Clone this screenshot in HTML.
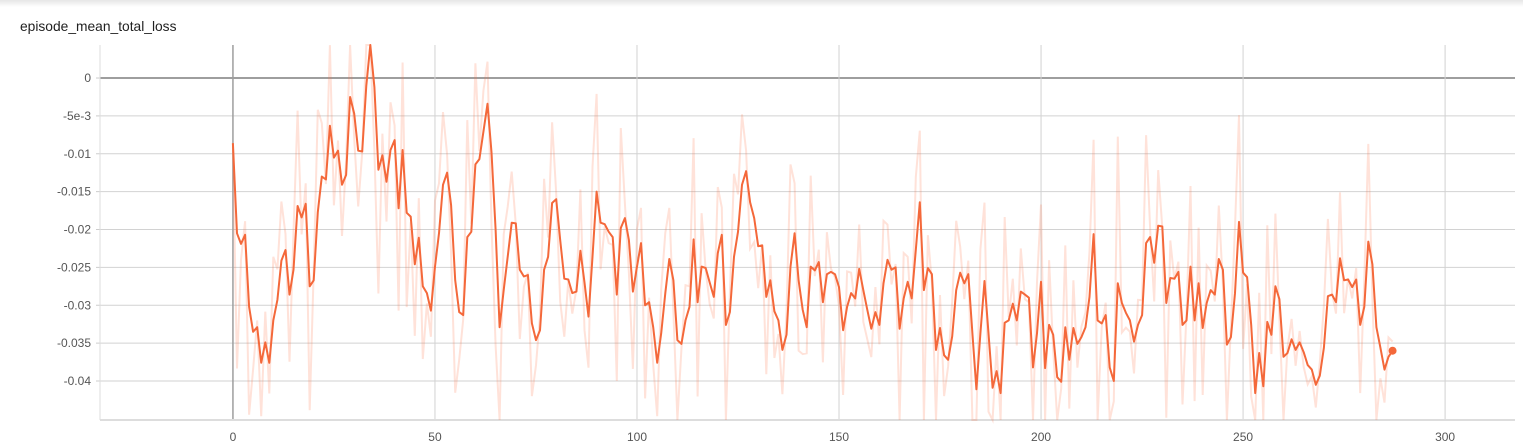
<!DOCTYPE html>
<html><head><meta charset="utf-8"><style>
html,body{margin:0;padding:0;background:#fff;width:1523px;height:446px;overflow:hidden;font-family:"Liberation Sans",Arial,sans-serif;position:relative}
#shadow{position:absolute;left:0;top:0;width:1523px;height:7px;background:linear-gradient(#e6e6e6,#fff)}
#title{position:absolute;left:20px;top:19px;font-size:13.8px;line-height:16px;color:#212121;white-space:nowrap}
svg{position:absolute;left:0;top:0;display:block}
</style></head><body>
<div id="shadow"></div>
<div id="title">episode_mean_total_loss</div>
<svg id="chart" width="1523" height="446"></svg>
<script>
const xTicks=[0,50,100,150,200,250,300];
const yTicks=[0,-0.005,-0.01,-0.015,-0.02,-0.025,-0.03,-0.035,-0.04];
const yTickLabels=["0","-5e-3","-0.01","-0.015","-0.02","-0.025","-0.03","-0.035","-0.04"];
// smoothed values (x1e-3), steps 0..287
const smoothed=[-8.6,-20.5,-21.9,-20.7,-30.2,-33.5,-32.9,-37.6,-34.9,-37.6,
-32,-29.3,-24.1,-22.7,-28.6,-25.3,-16.9,-18.4,-16.6,-27.5,
-26.7,-17.7,-13,-13.4,-6.3,-10.5,-9.6,-14.1,-12.8,-2.5,
-4.7,-9.6,-9.7,-1,4.4,-1.2,-12.1,-10.2,-13.7,-9.5,
-8.2,-17.2,-9.5,-17.8,-18.3,-24.6,-21.1,-27.5,-28.4,-30.7,
-24.9,-20.5,-14.1,-12.5,-16.8,-26.7,-30.9,-31.3,-21,-20.3,
-11.4,-10.7,-7.1,-3.4,-9.8,-20,-32.9,-28,-23.6,-19.1,
-19.2,-25.3,-26.2,-26,-32.4,-34.6,-33.3,-25.3,-23.6,-16.5,
-16,-21.4,-26.5,-26.6,-28.4,-28.2,-22.8,-27,-31.5,-23.6,
-15,-19.1,-19.3,-20.3,-21,-28.6,-19.8,-18.5,-21.4,-28.2,
-24.9,-21.8,-30,-29.6,-32.9,-37.6,-33.7,-28.4,-23.9,-26.7,
-34.6,-35.1,-32,-30.2,-21.3,-29.6,-24.9,-25.1,-27,-28.9,
-23.1,-20.7,-32.6,-30.9,-23.6,-20.3,-14.1,-12.3,-16.4,-18.5,
-22.2,-22.1,-28.9,-26.7,-30.8,-32,-35.9,-33.9,-24.9,-20.5,
-26.7,-30.6,-32.9,-24.9,-25.4,-24.3,-29.6,-25.9,-25.6,-25.9,
-27.6,-33.3,-30.2,-28.4,-29.1,-25.2,-28,-30.6,-33.1,-30.9,
-32.6,-27.1,-24,-25.3,-25,-33.1,-29.1,-26.9,-29.1,-22.7,
-16.4,-28,-25.1,-25.9,-35.9,-33,-36.6,-37.2,-34.1,-28,
-25.7,-27.1,-25.9,-33.7,-41.1,-33.7,-26.8,-33.7,-40.9,-38.7,
-41.6,-32.3,-32,-29.8,-32,-28.2,-28.6,-29,-38.2,-33.7,
-26.9,-38.3,-32.6,-33.9,-39.5,-40.1,-32.9,-37.2,-33,-35.1,
-34.2,-32.9,-28.9,-20.6,-32,-32.4,-31.3,-38.2,-40,-27.1,
-29.7,-31,-32,-34.8,-32.6,-31.3,-21.8,-21,-24.4,-19.5,
-19.6,-29.7,-26.4,-26.5,-25.6,-32.6,-32,-24.9,-32,-27.1,
-33,-29.7,-28,-28.6,-23.9,-25.3,-35.2,-34.2,-28.4,-19,
-25.7,-26.3,-32.6,-41.6,-36.3,-40.7,-32.2,-33.9,-27.5,-29.2,
-36.8,-36.3,-34.5,-35.9,-34.9,-36.2,-37.9,-38.5,-40.5,-39.3,
-35.6,-28.8,-28.6,-29.6,-23.8,-26.7,-26.6,-27.6,-26.6,-32.6,
-30.2,-21.6,-24.6,-32.9,-35.6,-38.5,-36.8,-36];
const W=0.6;
const raw=smoothed.map((s,i)=>i===0?s:(s-W*smoothed[i-1])/(1-W));

const NS="http://www.w3.org/2000/svg";
const svg=document.getElementById('chart');
const L=100,R=1515,T=45,B=420;
const X0=-32.9,X1=317.3,Y0=-45.15e-3,Y1=4.36e-3;
const sx=v=>L+(v-X0)/(X1-X0)*(R-L);
const sy=v=>B-(v-Y0)/(Y1-Y0)*(B-T);
const syc=v=>Math.max(T,Math.min(B,sy(v)));
function mk(tag,attrs){const e=document.createElementNS(NS,tag);for(const k in attrs)e.setAttribute(k,attrs[k]);svg.appendChild(e);return e;}

yTicks.forEach((v,i)=>{
  const y=sy(v);
  const g=mk('line',{x1:L,x2:R,y1:y,y2:y,stroke:v===0?'#9e9e9e':'#d2d2d2','stroke-width':v===0?2:1});
  
  
  const tk=mk('line',{x1:L-4,x2:L,y1:y,y2:y,stroke:'#ccc'});
  
  
  const t=mk('text',{x:91,y:y+4,'text-anchor':'end','font-size':12,fill:'#555'});
  t.textContent=yTickLabels[i];
  
  
});
xTicks.forEach(v=>{
  const x=sx(v);
  const g=mk('line',{x1:x,x2:x,y1:T,y2:B,stroke:v===0?'#9e9e9e':'#d2d2d2','stroke-width':v===0?1.5:1});
  
  
  const t=mk('text',{x:x,y:441,'text-anchor':'middle','font-size':12,fill:'#555'});
  t.textContent=String(v);
  
  
});
const ax=mk('line',{x1:L,x2:L,y1:T,y2:B,stroke:'#ddd'});


const bx=mk('line',{x1:L,x2:R,y1:B,y2:B,stroke:'#ddd','stroke-width':2});



const pts=a=>a.map((v,i)=>sx(i).toFixed(1)+','+syc(v*1e-3).toFixed(1)).join(' ');
const rawLine=mk('polyline',{points:pts(raw),fill:'none',stroke:'#ff7043','stroke-opacity':0.2,'stroke-width':2});


const smLine=mk('polyline',{points:pts(smoothed),fill:'none',stroke:'#f4683a','stroke-width':2,'stroke-linejoin':'round'});


const n=smoothed.length-1;
const dot=mk('circle',{cx:sx(n),cy:syc(smoothed[n]*1e-3),r:4,fill:'#f4683a'});


</script>
</body></html>
